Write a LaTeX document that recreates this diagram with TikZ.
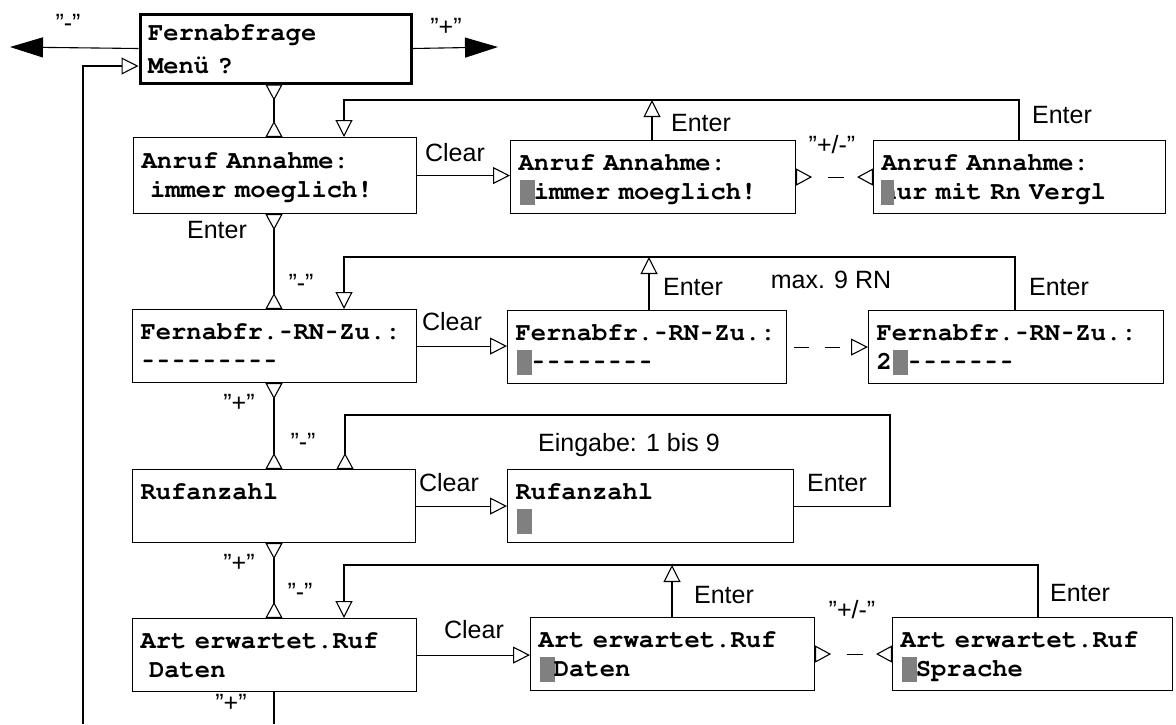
\documentclass[tikz,border=0pt]{standalone}
\usepackage[T1]{fontenc}
\usepackage{fontspec}
\usepackage{graphicx}
\setsansfont{Liberation Sans}
\usetikzlibrary{arrows.meta,calc}
\definecolor{cursorGray}{HTML}{808080}

\newcommand{\lcdfont}{\fontencoding{T1}\fontfamily{pcr}\fontseries{b}\fontshape{n}\fontsize{25.5}{29}\selectfont}
\newcommand{\csr}{\makebox[15.3pt][l]{\kern1pt\textcolor{cursorGray}{\rule[-5pt]{15pt}{25pt}}}}
\newcommand{\csrpart}{\textcolor{cursorGray}{\rule[-5pt]{13pt}{25pt}}\kern3pt}
\newcommand{\hy}{\makebox[15.3pt]{\scalebox{0.7}[1]{-}}}
\newcommand{\hys}[1]{\foreach \i in {1,...,#1}{\hy}}

\begin{document}
\begin{tikzpicture}[
  x=1pt, y=-1pt,
  font=\sffamily\fontsize{25}{30}\selectfont,
  line width=1.1pt,
  %% Tips
  otip/.tip={Triangle[open, length=17pt, width=17pt]},
  rtip/.tip={Triangle[open, reversed, length=16pt, width=17pt]},
  %% Node styles
  lcd/.style={
    rectangle, draw=black, anchor=north west,
    inner xsep=8pt, inner ysep=0pt,
    text width=#1,
    text height=30pt, text depth=43pt,
    font=\lcdfont
  },
  menu/.style={
    lcd=255pt, line width=3pt,
    text height=26.5pt, text depth=42.5pt,
    font=\lcdfont\fontsize{25.5}{33}\selectfont
  },
  key/.style={inner sep=0pt},
  %% Arrow styles
  clr/.style={-otip},
  bidir/.style={rtip-rtip},
  flip/.style={rtip-rtip, dash pattern=on 0pt off 17pt on 16pt off 100pt},
  more/.style={-otip, dash pattern=on 15pt off 16pt, dash phase=24pt},
  big/.style={-{Triangle[length=33pt, width=20pt]}},
]
\useasboundingbox (0,0) rectangle (1176,724);

%% ── Displays ───────────────────────────────────────────────────────────────
\node[menu] (menu) at (138.5,12.5) {Fernabfrage\\Men\"u ?};

\node[lcd=267pt, text height=31pt, text depth=45pt] (anruf1) at (133,137)
  {Anruf Annahme:\\~immer moeglich!};
\node[lcd=269pt] (anruf2) at (510,140) {Anruf Annahme:\\\csr immer moeglich!};
\node[lcd=276pt] (anruf3) at (873,140) {Anruf Annahme:\\n\llap{\csrpart}ur mit Rn Vergl};

\node[lcd=268pt] (rn1) at (132,309) {Fernabfr.\hy RN\hy Zu.:\\\hys{9}};
\node[lcd=263pt] (rn2) at (507,310) {Fernabfr.\hy RN\hy Zu.:\\\csr\hys{8}};
\node[lcd=279pt] (rn3) at (868,310) {Fernabfr.\hy RN\hy Zu.:\\2\csr\hys{7}};

\node[lcd=267pt] (ruf1) at (132,469) {Rufanzahl};
\node[lcd=270pt] (ruf2) at (507,469) {Rufanzahl\\\csr};

\node[lcd=268pt] (art1) at (132,618) {Art erwartet.Ruf\\~Daten};
\node[lcd=268pt] (art2) at (530,617) {Art erwartet.Ruf\\\csr Daten};
\node[lcd=264pt] (art3) at (892,617) {Art erwartet.Ruf\\\csr Sprache};

%% ── Fixed points ───────────────────────────────────────────────────────────
\coordinate (minus) at (10,47);
\coordinate (plus)  at (498,47);
\coordinate (fb)    at (83,724);
\coordinate (fbtop) at (83,66);
\coordinate (sp)    at (274,724);
\coordinate (l1l) at (344,100);  \coordinate (l1r) at (1019,100);  \coordinate (u1) at (652,100);
\coordinate (l2l) at (344,257);  \coordinate (l2r) at (1015,257);  \coordinate (u2) at (649,257);
\coordinate (l3l) at (345,415);  \coordinate (l3r) at (890,415);
\coordinate (l4l) at (344,565);  \coordinate (l4r) at (1038,565);  \coordinate (u4) at (672,565);

%% ── Menu exits ─────────────────────────────────────────────────────────────
\draw[big] (menu.west) -- (minus);
\draw[big] (menu.east) -- (plus);
\draw[clr] (fb) -- (fbtop) -- (fbtop -| menu.west);

%% ── Spine ──────────────────────────────────────────────────────────────────
\draw[bidir] (menu.south -| sp)   -- (anruf1.north -| sp);
\draw[bidir] (anruf1.south -| sp) -- (rn1.north -| sp);
\draw[bidir] (rn1.south -| sp)    -- (ruf1.north -| sp);
\draw[bidir] (ruf1.south -| sp)   -- (art1.north -| sp);
\draw        (art1.south -| sp)   -- (sp);

%% ── Clear ──────────────────────────────────────────────────────────────────
\draw[clr] (anruf1.east) -- (anruf1.east -| anruf2.west);
\draw[clr] (rn1.east)    -- (rn1.east -| rn2.west);
\draw[clr] (ruf1.east)   -- (ruf1.east -| ruf2.west);
\draw[clr] (art1.east)   -- (art1.east -| art2.west);

%% ── Toggle / more ──────────────────────────────────────────────────────────
\draw[flip] (anruf2.east) -- (anruf2.east -| anruf3.west);
\draw[more] (rn2.east)    -- (rn2.east -| rn3.west);
\draw[flip] (art2.east)   -- (art2.east -| art3.west);

%% ── Enter loops ────────────────────────────────────────────────────────────
\draw[clr] (anruf3.north -| l1r) -- (l1r) -- (l1l) -- (anruf1.north -| l1l);
\draw[clr] (anruf2.north -| u1) -- (u1);
\draw[clr] (rn3.north -| l2r) -- (l2r) -- (l2l) -- (rn1.north -| l2l);
\draw[clr] (rn2.north -| u2) -- (u2);
\draw[-rtip] (ruf2.east) -- (ruf2.east -| l3r) -- (l3r) -- (l3l) -- (ruf1.north -| l3l);
\draw[clr] (art3.north -| l4r) -- (l4r) -- (l4l) -- (art1.north -| l4l);
\draw[clr] (art2.north -| u4) -- (u4);

%% ── Keys ───────────────────────────────────────────────────────────────────
\node[key] (kMinus) at (68,23)  {"-"};
\node[key] (kPlus)  at (446,27) {"+"};

\node[key] (clearA) at (455,153) {Clear};
\node[key] (clearB) at (452,322) {Clear};
\node[key] (clearC) at (449,483) {Clear};
\node[key] (clearD) at (474,630) {Clear};

\node[key] (enterA) at (217,230)  {Enter};
\node[key] (enterB) at (701,123)  {Enter};
\node[key] (enterC) at (1062,115) {Enter};
\node[key] (enterD) at (693,287)  {Enter};
\node[key] (enterE) at (1059,287) {Enter};
\node[key] (enterF) at (837,483)  {Enter};
\node[key] (enterG) at (724,595)  {Enter};
\node[key] (enterH) at (1080,593) {Enter};

\node[key] (pmA) at (832,145) {"+/-"};
\node[key] (pmB) at (852,610) {"+/-"};
\node[key] (maxRN) at (831,280) {max. 9 RN};
\node[key] (range) at (629,445) {Eingabe: 1 bis 9};

\node[key] (upB) at (301,283) {"-"};
\node[key] (upC) at (303,442) {"-"};
\node[key] (upD) at (300,592) {"-"};
\node[key] (dnB) at (239,403) {"+"};
\node[key] (dnC) at (239,563) {"+"};
\node[key] (dnD) at (231,703) {"+"};

\end{tikzpicture}
\end{document}
